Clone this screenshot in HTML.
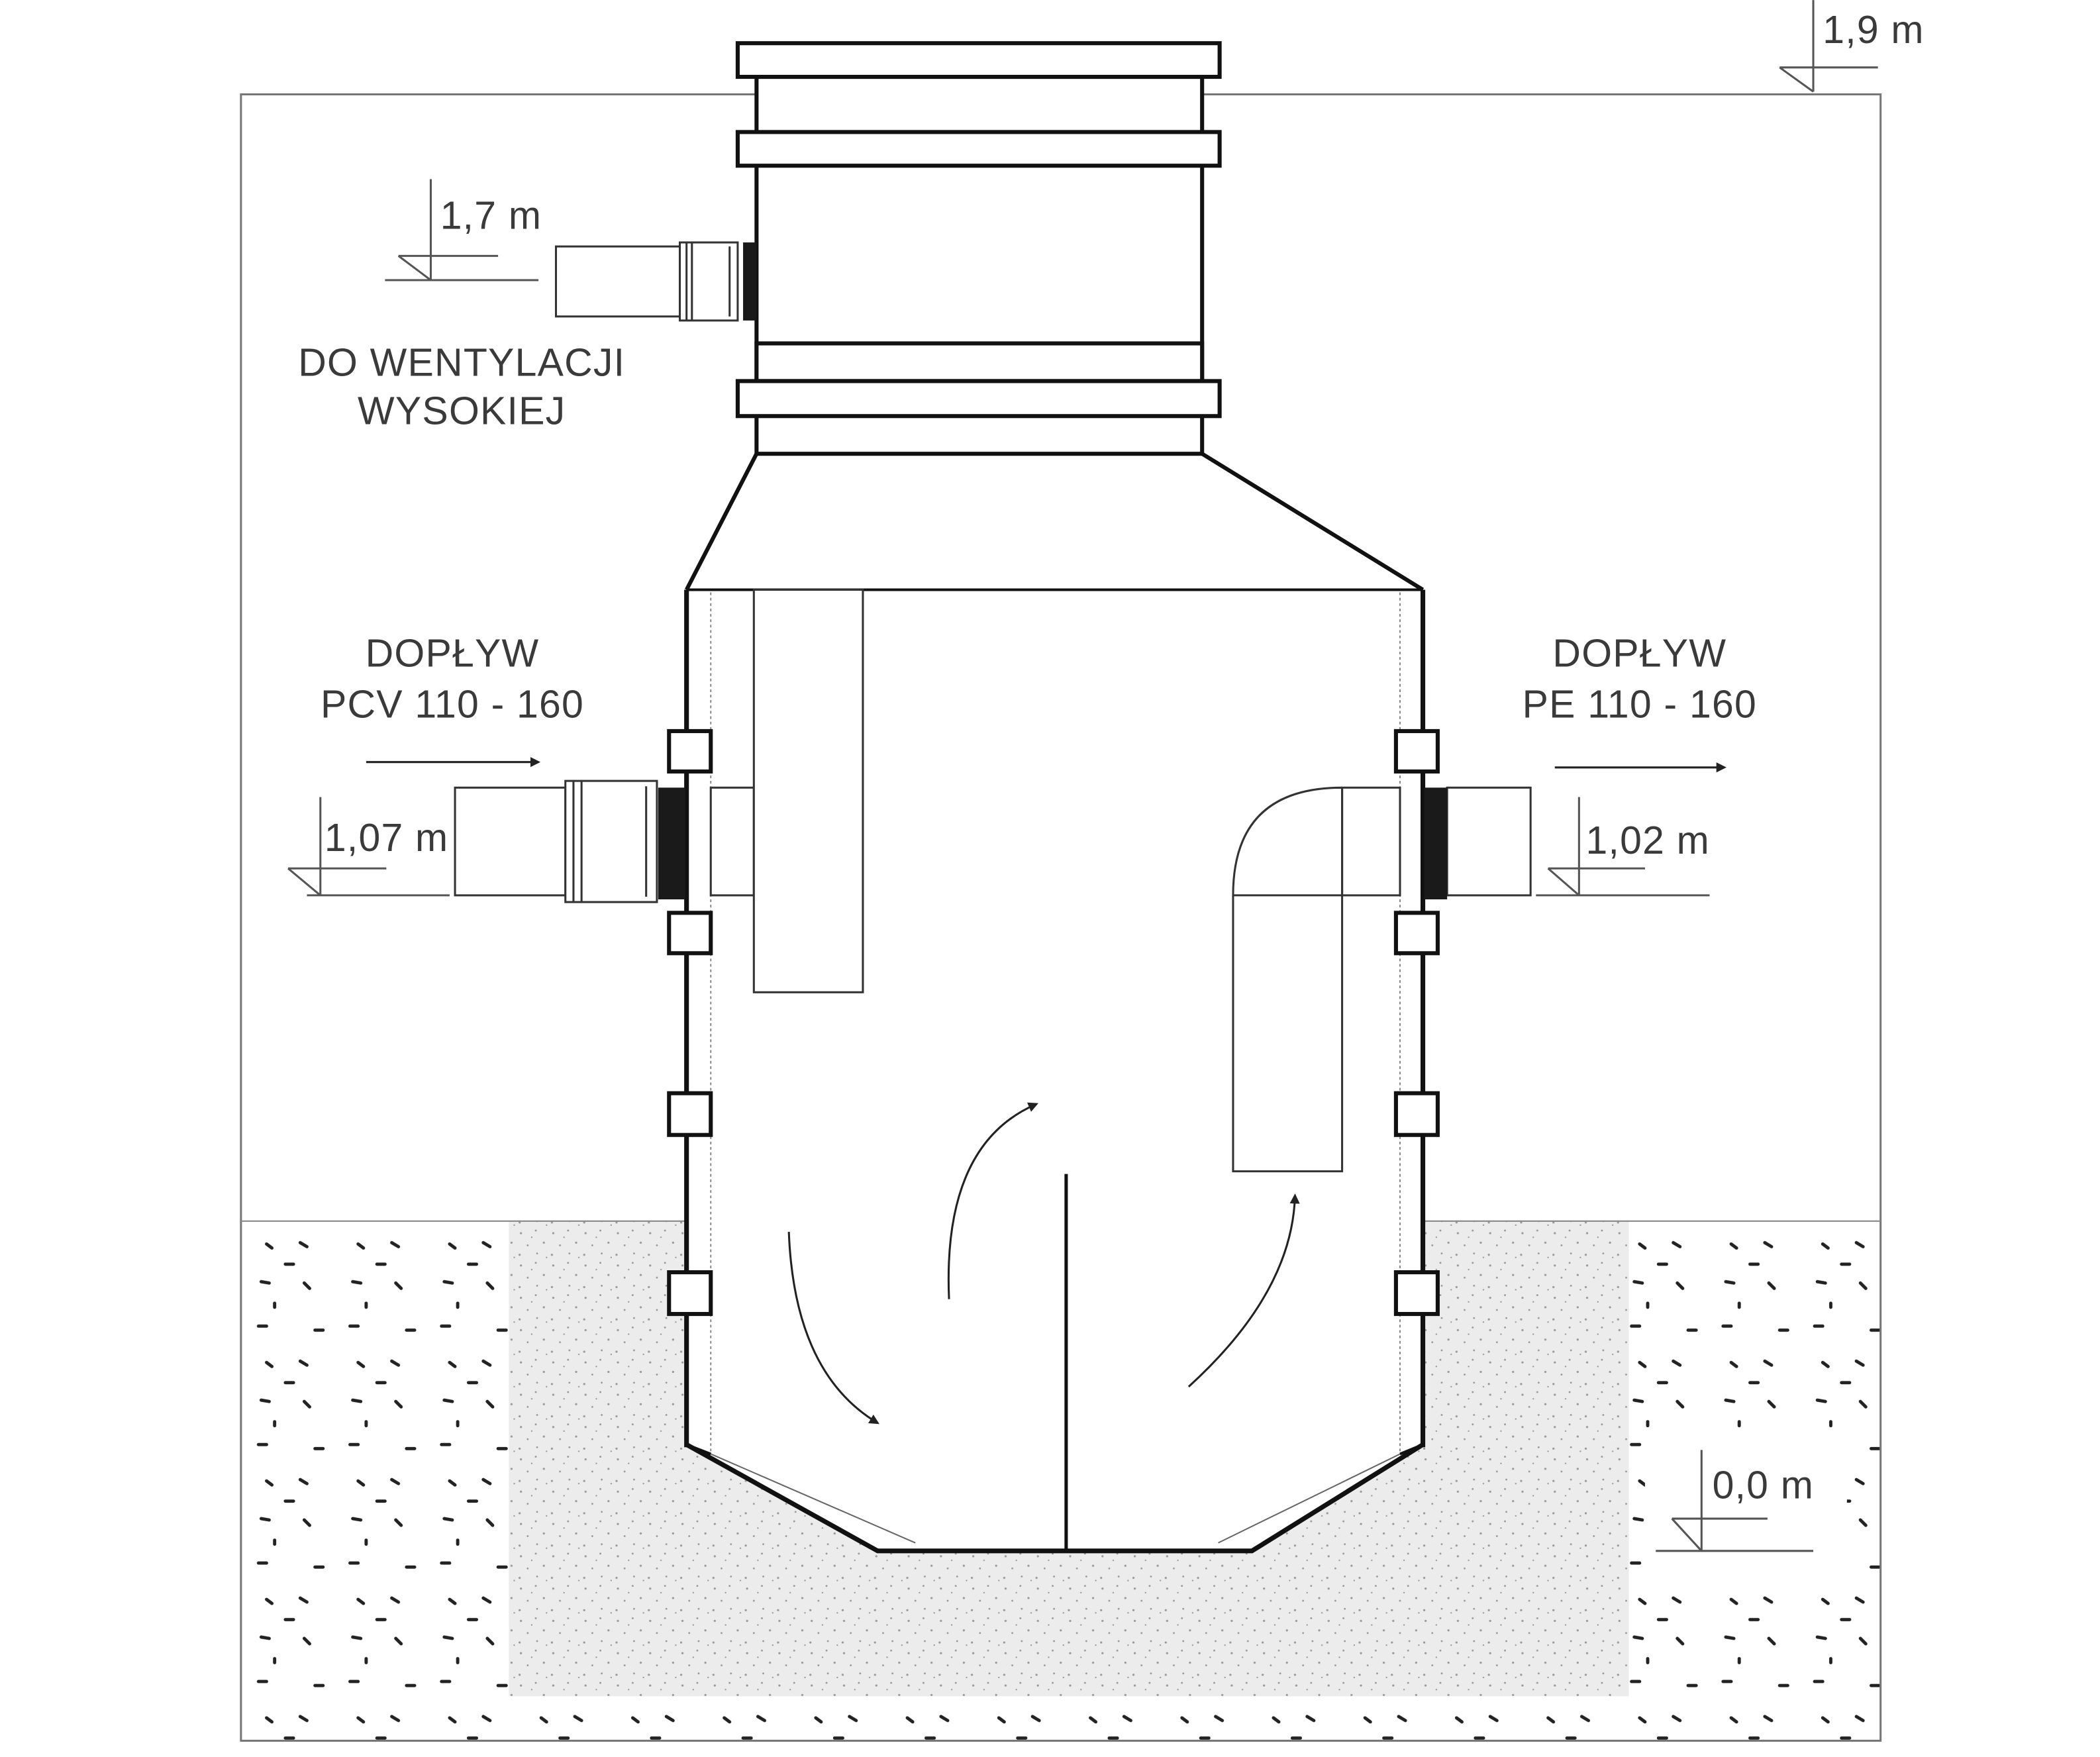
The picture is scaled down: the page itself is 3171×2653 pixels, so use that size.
<!DOCTYPE html>
<html><head><meta charset="utf-8"><style>
html,body{margin:0;padding:0;background:#fff}
svg{display:block}
text{font-family:"Liberation Sans",sans-serif;fill:#3a3a3a;font-size:29px;letter-spacing:0.6px}
</style></head><body>
<svg width="3171" height="2653" viewBox="0 0 1560 1305" xmlns="http://www.w3.org/2000/svg">
<defs>
<pattern id="soil" width="68" height="88" patternUnits="userSpaceOnUse" x="190" y="920">
<g stroke="#222" stroke-width="2.4" stroke-linecap="round" fill="none">
<line x1="8" y1="4" x2="12" y2="7"/><line x1="33" y1="3" x2="38" y2="6"/>
<line x1="22" y1="19" x2="28" y2="19"/>
<line x1="4" y1="32" x2="10" y2="33"/><line x1="36" y1="33" x2="40" y2="37"/>
<line x1="14" y1="48" x2="14" y2="51"/>
<line x1="2" y1="65" x2="8" y2="65"/><line x1="44" y1="68" x2="50" y2="68"/>
</g></pattern>
<pattern id="grav" width="24" height="24" patternUnits="userSpaceOnUse">
<rect width="24" height="24" fill="#ececec"/>
<g fill="#9a9a9a"><circle cx="3" cy="4" r="0.8"/><circle cx="14" cy="2" r="0.7"/><circle cx="20" cy="11" r="0.8"/><circle cx="8" cy="13" r="0.7"/><circle cx="2" cy="20" r="0.8"/><circle cx="15" cy="19" r="0.7"/><circle cx="22" cy="22" r="0.6"/><circle cx="11" cy="7" r="0.6"/></g>
</pattern>
<marker id="ah" viewBox="0 0 10 10" refX="8" refY="5" markerWidth="5" markerHeight="5" orient="auto"><path d="M0,0 L10,5 L0,10 z" fill="#222"/></marker>
</defs>
<rect x="179" y="907" width="1218" height="386" fill="url(#soil)"/>
<rect x="1222" y="1068" width="150" height="100" fill="#fff"/>
<rect x="378" y="907" width="832" height="353" fill="url(#grav)"/>
<rect x="179" y="70" width="1218" height="1223" fill="none" stroke="#777" stroke-width="1.5"/>
<line x1="179" y1="907" x2="1397" y2="907" stroke="#888" stroke-width="1"/>
<path d="M510,438 L1057,438 L1057,1073 L930,1152 L652,1152 L510,1073 Z" fill="#fff"/>
<g stroke="#111" fill="#fff">
<rect x="562" y="57" width="331" height="280" stroke-width="3"/>
<rect x="548" y="32" width="358" height="25" stroke-width="3"/>
<rect x="548" y="98" width="358" height="25" stroke-width="3"/>
<rect x="562" y="255" width="331" height="28" stroke-width="3"/>
<rect x="548" y="283" width="358" height="26" stroke-width="3"/>
</g>
<path d="M562,337 L510,438 M893,337 L1057,438" stroke="#111" stroke-width="3" fill="none"/>
<line x1="510" y1="438" x2="1057" y2="438" stroke="#111" stroke-width="2"/>
<g stroke="#111" stroke-width="3.5" fill="none">
<line x1="510" y1="438" x2="510" y2="1075"/><line x1="1057" y1="438" x2="1057" y2="1075"/>
<path d="M510,1073 L652,1152 L930,1152 L1057,1073"/>
</g>
<g stroke="#888" stroke-width="1" stroke-dasharray="2,2"><line x1="528" y1="440" x2="528" y2="1080"/><line x1="1040" y1="440" x2="1040" y2="1080"/></g>
<path d="M528,1080 L680,1146 M1040,1080 L905,1146" stroke="#666" stroke-width="1"/>
<path d="M510,1073 L528,1080 M1057,1073 L1040,1080" stroke="#111" stroke-width="2"/>
<g stroke="#111" stroke-width="3" fill="#fff">
<rect x="497" y="543" width="31" height="30"/><rect x="497" y="678" width="31" height="30"/><rect x="497" y="812" width="31" height="31"/><rect x="497" y="945" width="31" height="31"/>
<rect x="1037" y="543" width="31" height="30"/><rect x="1037" y="678" width="31" height="30"/><rect x="1037" y="812" width="31" height="31"/><rect x="1037" y="945" width="31" height="31"/>
</g>
<g stroke="#333" stroke-width="1.5" fill="#fff">
<rect x="338" y="585" width="82" height="80"/>
<rect x="420" y="580" width="68" height="90"/>
<line x1="426" y1="580" x2="426" y2="670"/><line x1="432" y1="580" x2="432" y2="670"/>
<line x1="480" y1="584" x2="480" y2="666"/>
<rect x="528" y="585" width="32" height="80"/>
<rect x="560" y="438" width="81" height="299"/>
</g>
<rect x="489" y="585" width="20" height="83" fill="#1a1a1a"/>
<g stroke="#333" stroke-width="1.5" fill="#fff">
<path d="M997,585 L997,665 M997,585 Q916,585 916,665 L916,870 L997,870 L997,665 L916,665"/>
<rect x="997" y="585" width="43" height="80" fill="none"/>
<rect x="1075" y="585" width="62" height="80"/>
</g>
<rect x="1058" y="585" width="17" height="83" fill="#1a1a1a"/>
<g stroke="#333" stroke-width="1.5" fill="#fff">
<rect x="413" y="183" width="92" height="52"/>
<rect x="505" y="180" width="43" height="58"/>
<line x1="510" y1="180" x2="510" y2="238"/><line x1="514" y1="180" x2="514" y2="238"/><line x1="542" y1="183" x2="542" y2="235"/>
</g>
<rect x="552" y="180" width="10" height="58" fill="#1a1a1a"/>
<line x1="792" y1="872" x2="792" y2="1152" stroke="#111" stroke-width="2.5"/>
<g stroke="#222" stroke-width="1.5" fill="none" marker-end="url(#ah)">
<path d="M586,915 Q590,1020 652,1057"/>
<path d="M705,965 Q700,850 770,820"/>
<path d="M883,1030 Q960,960 962,888"/>
<line x1="272" y1="566" x2="400" y2="566"/>
<line x1="1155" y1="570" x2="1281" y2="570"/>
</g>
<g stroke="#555" stroke-width="1.5" fill="none">
<path d="M1347,0 L1347,68 M1322,50 L1395,50 M1322,50 L1347,68"/>
<path d="M320,133 L320,208 M296,190 L370,190 M296,190 L320,208 M286,208 L400,208"/>
<path d="M238,592 L238,665 M214,645 L287,645 M214,645 L238,665 M228,665 L334,665"/>
<path d="M1173,592 L1173,665 M1150,645 L1222,645 M1150,645 L1173,665 M1141,665 L1270,665"/>
<path d="M1264,1077 L1264,1152 M1242,1128 L1313,1128 M1242,1128 L1264,1152 M1230,1152 L1347,1152"/>
</g>
<text x="1354" y="32">1,9 m</text>
<text x="327" y="170">1,7 m</text>
<text x="241" y="632">1,07 m</text>
<text x="1178" y="634">1,02 m</text>
<text x="1272" y="1113">0,0 m</text>
<text x="343" y="279" text-anchor="middle">DO WENTYLACJI</text>
<text x="343" y="315" text-anchor="middle">WYSOKIEJ</text>
<text x="336" y="495" text-anchor="middle">DOPŁYW</text>
<text x="336" y="533" text-anchor="middle">PCV 110 - 160</text>
<text x="1218" y="495" text-anchor="middle">DOPŁYW</text>
<text x="1218" y="533" text-anchor="middle">PE 110 - 160</text>
</svg>
</body></html>
